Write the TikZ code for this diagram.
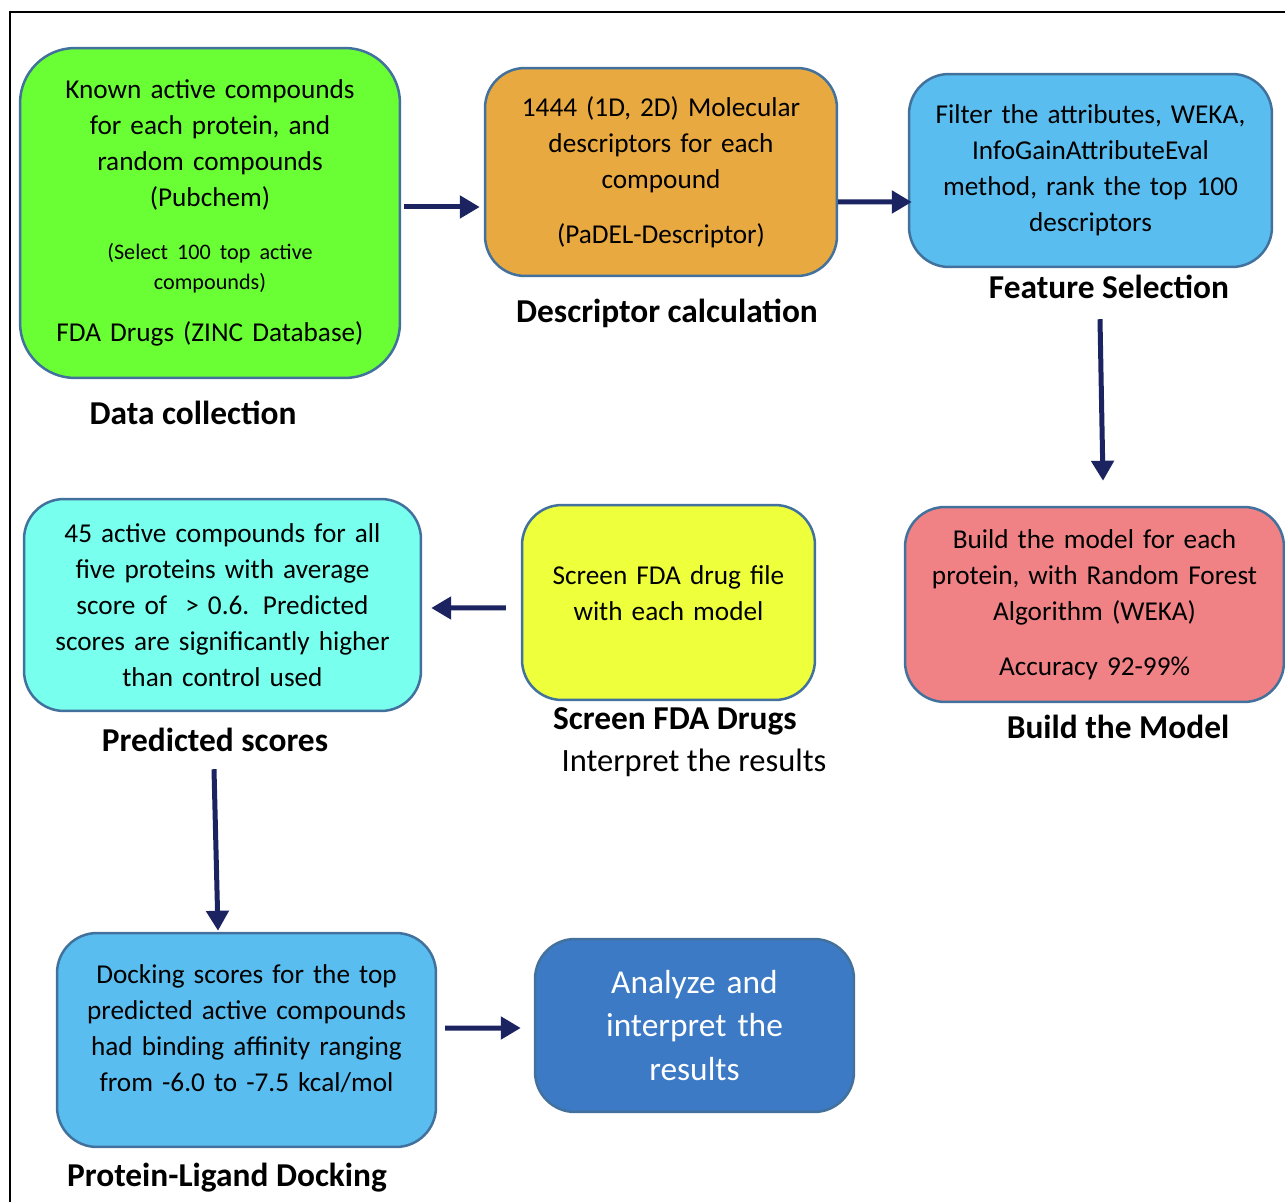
\documentclass[tikz,border=0pt]{standalone}
\usepackage{fontspec}
\setmainfont{Carlito}
\usetikzlibrary{arrows.meta}
\definecolor{boxline}{HTML}{41719C}
\definecolor{flowblue}{HTML}{1B2461}
\definecolor{limebox}{HTML}{6AFF35}
\definecolor{amberbox}{HTML}{E8A941}
\definecolor{skybox}{HTML}{5ABDEF}
\definecolor{rosebox}{HTML}{F08285}
\definecolor{lemonbox}{HTML}{EEFF3C}
\definecolor{aquabox}{HTML}{78FFEE}
\definecolor{steelbox}{HTML}{3D7AC5}
\newcommand{\bodytxt}{\fontsize{15.5}{20.5}\selectfont}
\newcommand{\smalltxt}{\fontsize{12.6}{17}\selectfont}
\tikzset{
  box/.style={draw=boxline,line width=0.05cm,rounded corners=0.8cm,align=center,inner sep=0pt,font=\bodytxt},
  lbl/.style={font=\bfseries\fontsize{19}{23}\selectfont},
  flow/.style={flowblue,line width=0.1cm,-{Triangle[length=0.4cm,width=0.44cm]}}
}
\begin{document}
\begin{tikzpicture}[x=0.02cm,y=-0.02cm]
\useasboundingbox (0,0) rectangle (1285,1202);
%frame
\draw[line width=0.03cm] (1285,12) -- (10,12) -- (10,1202);
%boxes
\node[box,fill=limebox,rounded corners=1.1cm,minimum width=7.6cm,minimum height=6.6cm,text width=7cm] (collect) at (210,213)
  {Known active compounds\\ for each protein, and\\ random compounds\\ (Pubchem)\par\vspace{13pt}
   \smalltxt (Select 100 top active\\ compounds)\par\vspace{9.5pt}
   \bodytxt FDA Drugs (ZINC Database)\par};
\node[box,fill=amberbox,minimum width=7.04cm,minimum height=4.16cm,text width=6.6cm] (desc) at (661,172)
  {1444 (1D, 2D) Molecular\\ descriptors for each\\ compound\\[11pt] (PaDEL-Descriptor)};
\node[box,fill=skybox,minimum width=7.26cm,minimum height=3.86cm,text width=6.9cm] (feat) at (1090.5,170.5)
  {Filter the attributes, WEKA,\\ InfoGainAttributeEval\\ method, rank the top 100\\ descriptors};
\node[box,fill=rosebox,minimum width=7.58cm,minimum height=3.9cm,text width=7.2cm] (model) at (1094.5,604.5)
  {Build the model for each\\ protein, with Random Forest\\ Algorithm (WEKA)\\[11pt] Accuracy 92-99\%};
\node[box,fill=lemonbox,minimum width=5.86cm,minimum height=3.9cm,text width=5.5cm] (screen) at (668.5,602.5)
  {Screen FDA drug file\\ with each model\par\vspace{-9.2pt}\mbox{}};
\node[box,fill=aquabox,minimum width=7.94cm,minimum height=4.24cm,text width=7.6cm] (pred) at (222.5,605)
  {45 active compounds for all\\ five proteins with average\\ score of \ > 0.6. Predicted\\ scores are significantly higher\\ than control used};
\node[box,fill=skybox,minimum width=7.58cm,minimum height=4.28cm,text width=7.2cm] (dock) at (246.5,1040)
  {Docking scores for the top\\ predicted active compounds\\ had binding affinity ranging\\ from -6.0 to -7.5 kcal/mol\par\vspace{-7.3pt}\mbox{}};
\node[box,fill=steelbox,text=white,font=\fontsize{19}{25}\selectfont,minimum width=6.38cm,minimum height=3.46cm,text width=6cm] (analyze) at (694.5,1025.5)
  {Analyze and\\ interpret the\\ results};
%labels
\node[lbl] (collectlbl) at (193,413) {Data collection};
\node[lbl] (desclbl) at (667,313) {Descriptor calculation};
\node[lbl] (featlbl) at (1109,287) {Feature Selection};
\node[lbl] (modellbl) at (1118,727) {Build the Model};
\node[lbl] (screenlbl) at (675,721) {Screen FDA Drugs};
\node[font=\fontsize{18.5}{22}\selectfont] (interplbl) at (694,763) {Interpret the results};
\node[lbl] (predlbl) at (215,740) {Predicted scores};
\node[lbl] (docklbl) at (227,1178) {Protein-Ligand Docking};
%arrows
\draw[flow] ([shift={(3,-6)}]collect.east) -- ([shift={(-4,35)}]desc.west);
\draw[flow] ([shift={(0,30)}]desc.east) -- ([shift={(4,31.5)}]feat.west);
\draw[flow] ([shift={(9.5,51)}]feat.south) -- ([shift={(8.5,-25)}]model.north);
\draw[flow] ([shift={(-15,5.5)}]screen.west) -- ([shift={(9,3)}]pred.east);
\draw[flow] ([shift={(-8.5,57)}]pred.south) -- ([shift={(-28.5,-1)}]dock.north);
\draw[flow] ([shift={(8,-12)}]dock.east) -- ([shift={(-13,2.5)}]analyze.west);
\end{tikzpicture}
\end{document}
